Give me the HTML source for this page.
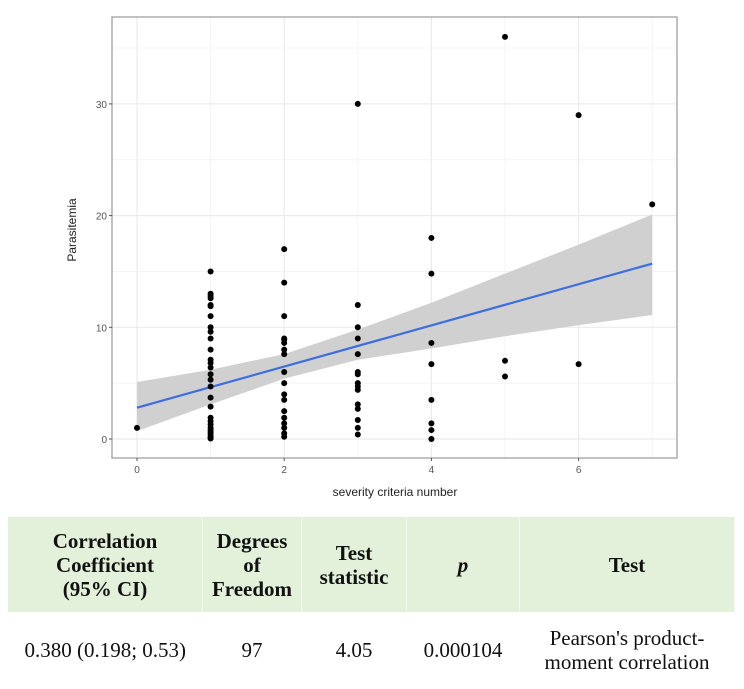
<!DOCTYPE html>
<html><head><meta charset="utf-8"><style>
body{margin:0;width:744px;height:689px;background:#fff;overflow:hidden;font-family:"Liberation Sans",sans-serif}
#chart{position:absolute;left:0;top:0}
table{position:absolute;left:8px;top:517px;width:727px;border-collapse:collapse;font-family:"Liberation Serif",serif;color:#111}
th{background:#e3f1da;font-weight:bold;font-size:21px;line-height:24px;height:95px;padding:0;text-align:center;border-right:1px solid #f2f8ee}
td{font-size:21px;line-height:24px;height:76px;text-align:center;padding:0;white-space:nowrap}
</style></head><body>
<svg id="chart" width="744" height="510"></svg>
<table>
<tr>
<th style="width:194px">Correlation<br>Coefficient<br>(95% CI)</th>
<th style="width:98px">Degrees<br>of<br>Freedom</th>
<th style="width:104px">Test<br>statistic</th>
<th style="width:112px"><i>p</i></th>
<th>Test</th></tr>
<tr>
<td>0.380 (0.198; 0.53)</td>
<td>97</td>
<td>4.05</td>
<td>0.000104</td>
<td>Pearson's product-<br>moment correlation</td></tr>
</table>
<script>
const pointsX=[0,1,1,1,1,1,1,1,1,1,1,1,1,1,1,1,1,1,1,1,1,1,1,1,1,1,1,1,1,1,2,2,2,2,2,2,2,2,2,2,2,2,2,2,2,2,2,2,3,3,3,3,3,3,3,3,3,3,3,3,3,3,3,4,4,4,4,4,4,4,4,5,5,5,6,6,7];
const pointsY=[1.0,15,13,12.8,12.6,12,11.9,11,10,9.6,9,8,7.1,6.8,6.4,5.8,5.3,4.7,3.7,2.9,1.9,1.6,1.3,1.0,0.8,0.6,0.4,0.2,0.1,0.05,17,14,11,9,8.9,8.6,8,7.6,6,5,4,3.5,2.5,1.9,1.4,1,0.5,0.2,30,12,10,9,7.6,6,5.8,5,4.7,4.4,3.1,2.7,1.7,1,0.4,18,14.8,8.6,6.7,3.5,1.4,0.8,0,36,7,5.6,29,6.7,21];
const fitX=[0,7];
const fitY=[2.8,15.7];
const bandX=[0,1,2,3,4,5,6,7];
const bandLow=[0.7,3.1,5.4,7.1,8.1,9.2,10.2,11.1];
const bandHigh=[5.1,6.2,7.6,9.8,12.2,14.8,17.4,20.1];
const xTicks=[0,2,4,6];
const yTicks=[0,10,20,30];
const xMinor=[1,3,5,7];
const yMinor=[5,15,25,35];

const NS="http://www.w3.org/2000/svg",svg=document.getElementById('chart');
const L=112,R=677,T=17,B=458;
const sx=v=>137+v*73.6, sy=v=>439-v*11.17;
function mk(t,a,p){const e=document.createElementNS(NS,t);for(const k in a)e.setAttribute(k,a[k]);(p||svg).appendChild(e);return e;}
const grid=mk('g',{});


xMinor.forEach(v=>mk('line',{x1:sx(v),x2:sx(v),y1:T,y2:B,stroke:'#f4f4f4','stroke-width':1},grid));
yMinor.forEach(v=>mk('line',{x1:L,x2:R,y1:sy(v),y2:sy(v),stroke:'#f4f4f4','stroke-width':1},grid));
xTicks.forEach(v=>mk('line',{x1:sx(v),x2:sx(v),y1:T,y2:B,stroke:'#ebebeb','stroke-width':1.2},grid));
yTicks.forEach(v=>mk('line',{x1:L,x2:R,y1:sy(v),y2:sy(v),stroke:'#ebebeb','stroke-width':1.2},grid));
let d='M'+bandX.map((x,i)=>sx(x)+','+sy(bandHigh[i])).join('L');
for(let i=bandX.length-1;i>=0;i--)d+='L'+sx(bandX[i])+','+sy(bandLow[i]);
const band=mk('path',{d:d+'Z',fill:'#d0d0d0'});


const fit=mk('line',{x1:sx(fitX[0]),y1:sy(fitY[0]),x2:sx(fitX[1]),y2:sy(fitY[1]),stroke:'#3d6ee0','stroke-width':2.2});


pointsX.forEach((x,i)=>{const c=mk('circle',{cx:sx(x),cy:sy(pointsY[i]),r:3,fill:'#000'});

});
const frame=mk('rect',{x:L,y:T,width:R-L,height:B-T,fill:'none',stroke:'#a0a0a0','stroke-width':1.3});


xTicks.forEach(v=>{mk('line',{x1:sx(v),x2:sx(v),y1:B,y2:B+3,stroke:'#555'});
const t=mk('text',{x:sx(v),y:B+15,'text-anchor':'middle','font-size':10,fill:'#555'});t.textContent=v;

});
yTicks.forEach(v=>{mk('line',{x1:L-3,x2:L,y1:sy(v),y2:sy(v),stroke:'#555'});
const t=mk('text',{x:L-5,y:sy(v)+4,'text-anchor':'end','font-size':10,fill:'#555'});t.textContent=v;

});
const xt=mk('text',{x:395,y:496,'text-anchor':'middle','font-size':12,fill:'#222'});xt.textContent='severity criteria number';


const yt=mk('text',{x:0,y:0,'text-anchor':'middle','font-size':12,fill:'#222',transform:'translate(76,230) rotate(-90)'});yt.textContent='Parasitemia';


</script>
</body></html>
